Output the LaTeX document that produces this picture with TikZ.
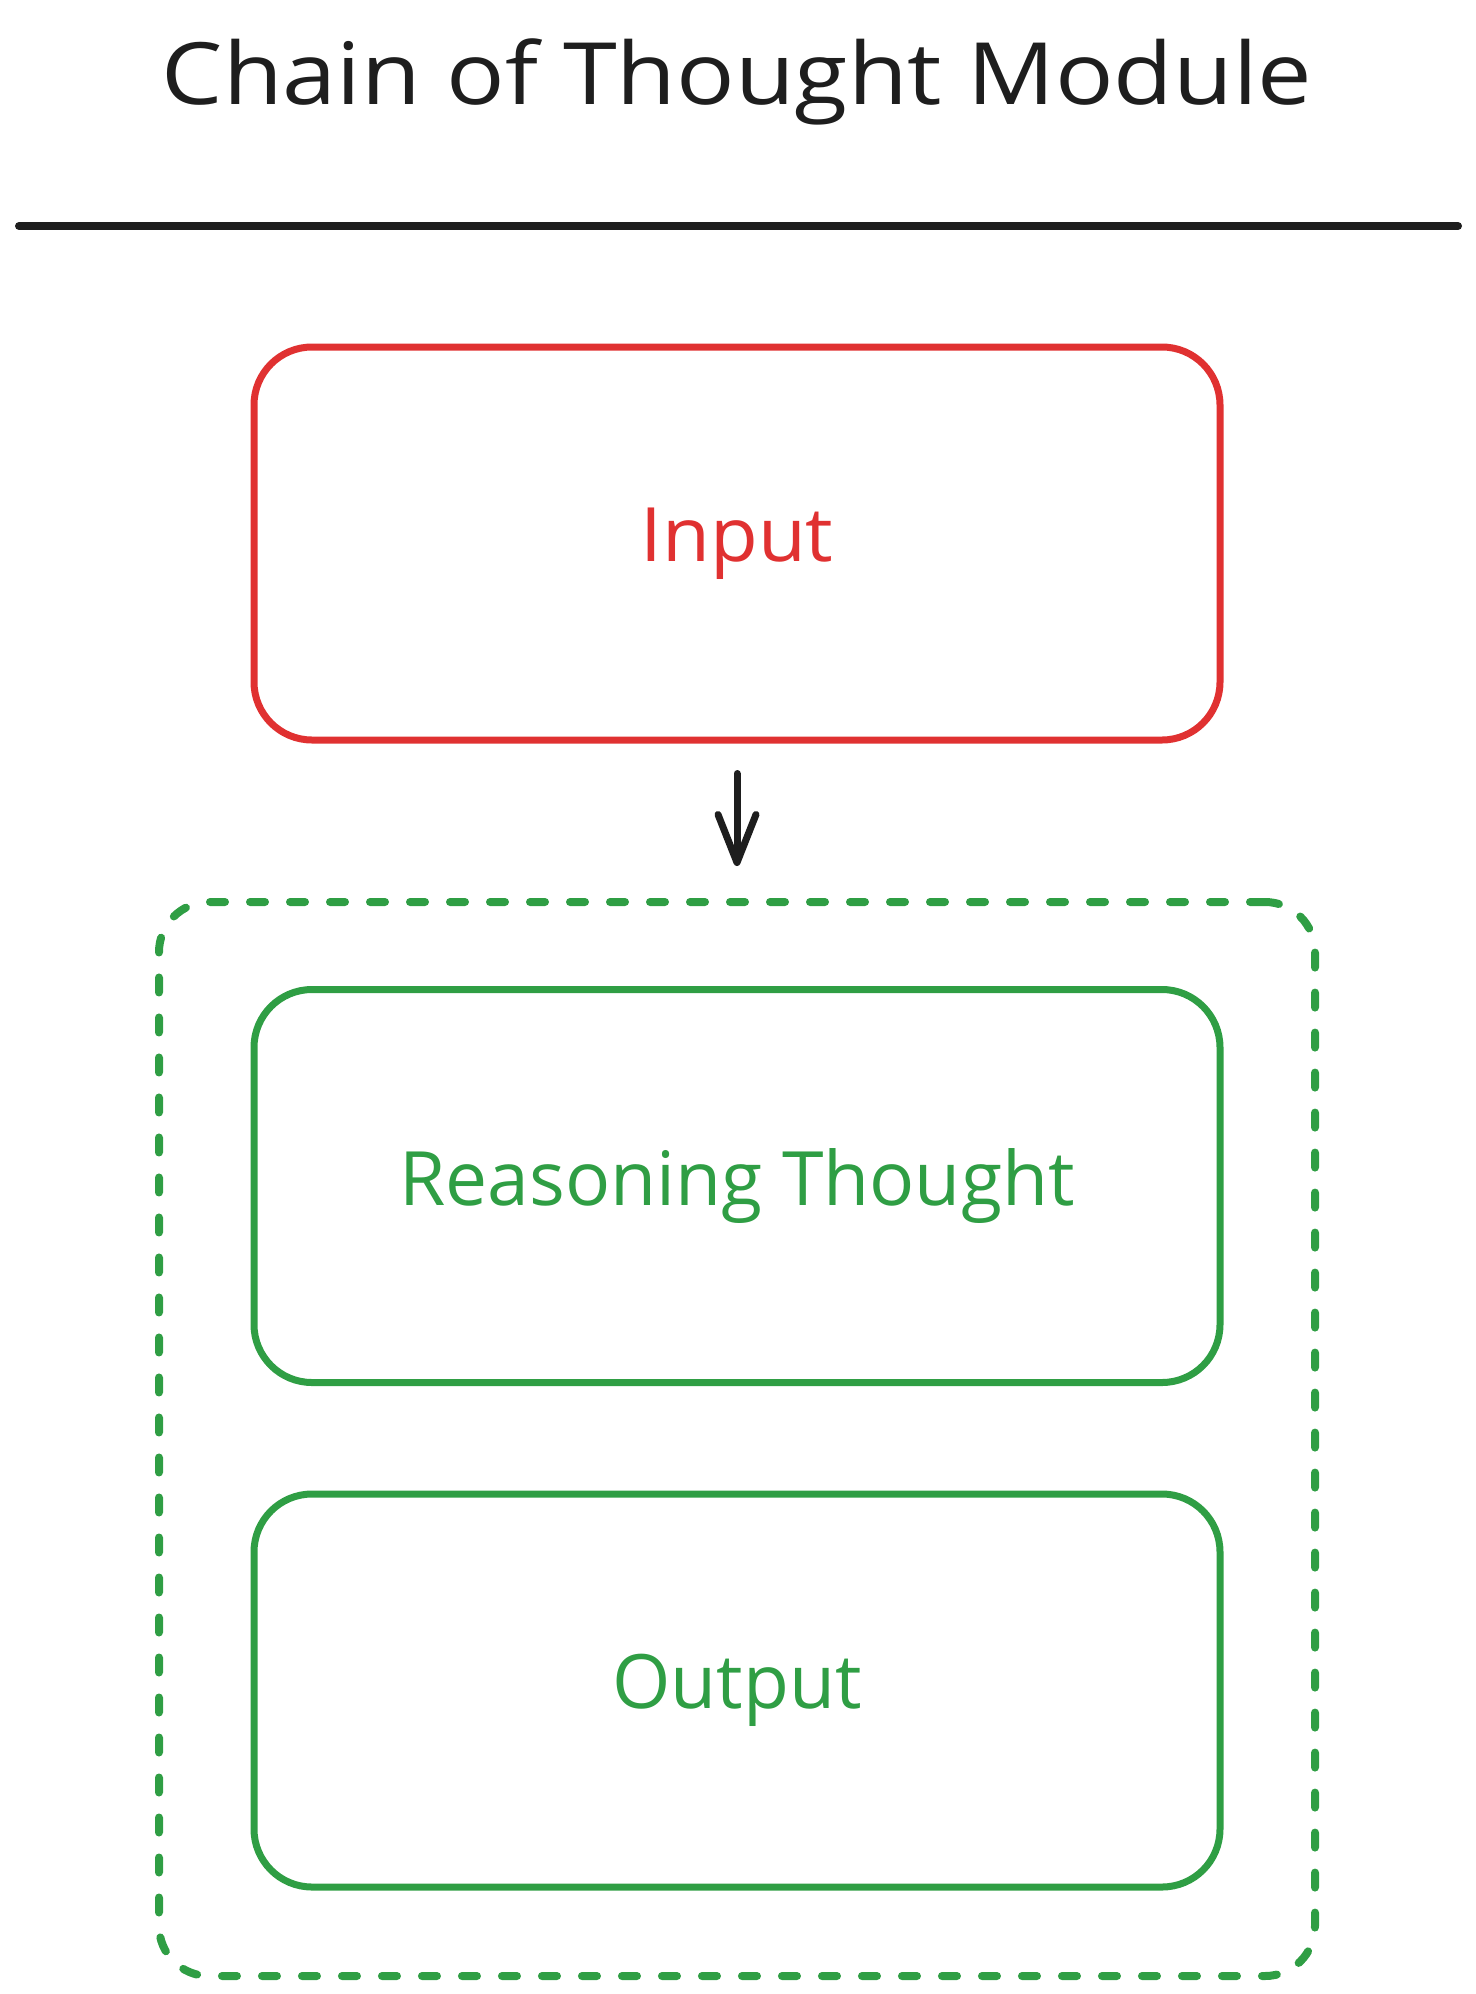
\documentclass[tikz,border=0pt]{standalone}
\usepackage{fontspec}
\setmainfont{Open Sans}
\usetikzlibrary{arrows.meta}
\definecolor{exred}{HTML}{E03131}
\definecolor{exgreen}{HTML}{2F9E44}
\definecolor{exblack}{HTML}{1E1E1E}
\tikzset{
  boxstyle/.style={draw, line width=7pt, rounded corners=58pt, minimum width=966pt, minimum height=393pt, inner sep=0pt, font=\fontsize{75}{84}\selectfont},
  redbox/.style={boxstyle, draw=exred, text=exred},
  greenbox/.style={boxstyle, draw=exgreen, text=exgreen},
  groupbox/.style={draw=exgreen, line width=8pt, line cap=round, dash pattern=on 15pt off 25pt, rounded corners=50pt, minimum width=1156pt, minimum height=1074pt, inner sep=0pt},
  flowarrow/.style={draw=exblack, line width=7pt, line cap=round, -{Straight Barb[length=48pt, width=38pt, line cap=round, line join=round]}},
}
\begin{document}
\begin{tikzpicture}[x=1pt, y=-1pt]
\useasboundingbox (0,0) rectangle (1475,1994);
\node[text=exblack, font=\fontsize{86}{94}\selectfont] (title) at (737,82) {\scalebox{1.13}[1]{Chain of Thought Module}};
\coordinate (lineL) at (19,226);
\coordinate (lineR) at (1458,226);
\draw[exblack, line width=8pt, line cap=round] (lineL) -- (lineR);
\node[redbox] (input) at (737,543.5) {\scalebox{1.04}[1]{Input}};
\node[groupbox] (group) at (737,1439) {};
\node[greenbox] (reason) at (737,1186) {Reasoning Thought};
\node[greenbox] (output) at (737,1690.5) {Output};
\draw[flowarrow, shorten <=30pt, shorten >=32pt] (input.south) -- (group.north);
\end{tikzpicture}
\end{document}
